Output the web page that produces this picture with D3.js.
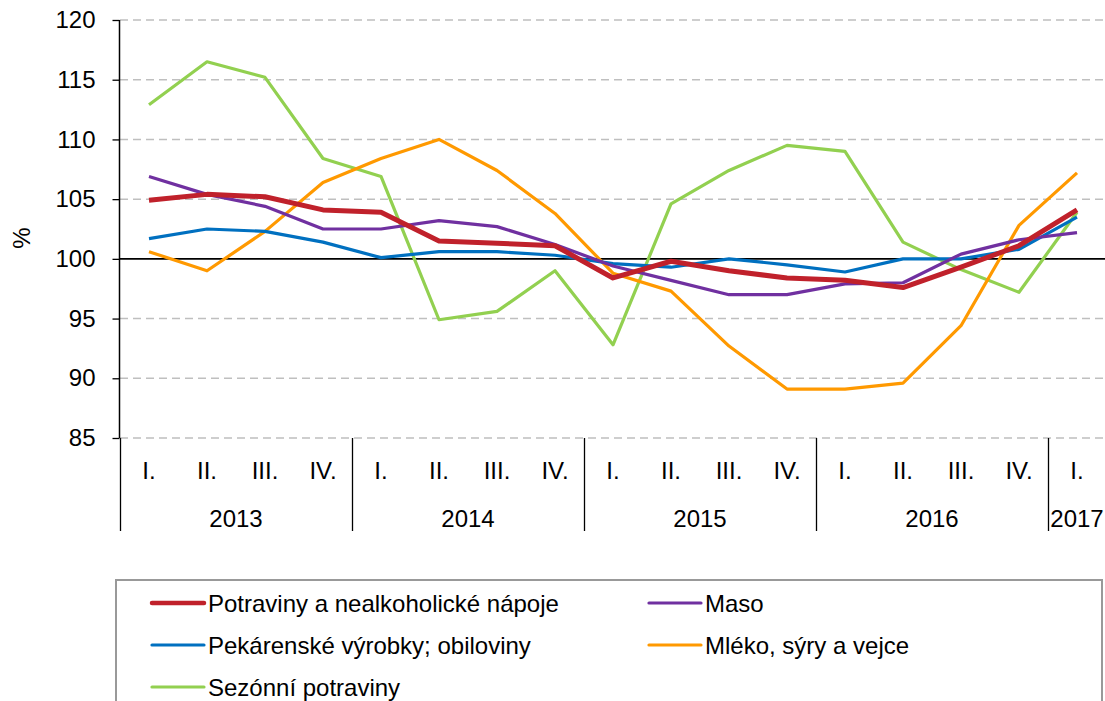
<!DOCTYPE html>
<html><head><meta charset="utf-8">
<script src="https://cdn.jsdelivr.net/npm/d3@7"></script>
<style>body{margin:0;background:#fff}svg{display:block;font-family:"Liberation Sans",Arial,sans-serif}</style>
</head><body><svg id="c" width="1105" height="701"></svg>
<script>
const quarters = ["I.","II.","III.","IV.","I.","II.","III.","IV.","I.","II.","III.","IV.","I.","II.","III.","IV.","I."];
const years = ["2013","2014","2015","2016","2017"];
const yearCounts = [4,4,4,4,1];
const yTicks = [85,90,95,100,105,110,115,120];
const seriesNames = ["Potraviny a nealkoholické nápoje","Maso","Pekárenské výrobky; obiloviny","Mléko, sýry a vejce","Sezónní potraviny"];
const potraviny = [104.9,105.4,105.2,104.1,103.9,101.5,101.3,101.1,98.4,99.8,99.0,98.4,98.2,97.6,99.3,101.1,104.1];
const maso = [106.9,105.4,104.4,102.5,102.5,103.2,102.7,101.2,99.4,98.2,97.0,97.0,97.9,98.0,100.4,101.6,102.2];
const pekarenske = [101.7,102.5,102.3,101.4,100.1,100.6,100.6,100.3,99.6,99.3,100.0,99.5,98.9,100.0,100.0,100.8,103.5];
const mleko = [100.6,99.0,102.3,106.4,108.4,110.0,107.4,103.8,98.8,97.3,92.7,89.1,89.1,89.6,94.4,102.8,107.2];
const sezonni = [112.9,116.5,115.2,108.4,106.9,94.9,95.6,99.0,92.8,104.6,107.4,109.5,109.0,101.4,99.1,97.2,103.9];

const seriesData = [potraviny, maso, pekarenske, mleko, sezonni];
const colors = ["#C0212B","#7030A0","#0070C0","#FF9900","#92D050"];
const widths = [5,3.2,3.2,3.2,3.2];
const FS = 24;

const svg = d3.select("#c");
const x = d3.scaleBand().domain(d3.range(quarters.length)).range([120,1106]).padding(0);
const y = d3.scaleLinear().domain([85,120]).range([438,20]);

// grid
svg.append("g").selectAll("line").data(yTicks.filter(t=>t!==100)).join("line")
  .attr("x1",120).attr("x2",1106).attr("y1",d=>y(d)).attr("y2",d=>y(d))
  .attr("stroke","#BFBFBF").attr("stroke-width",1.5).attr("stroke-dasharray","8,5");
svg.append("line").attr("x1",120).attr("x2",1106).attr("y1",y(100)).attr("y2",y(100))
  .attr("stroke","#000").attr("stroke-width",1.8);

// y axis
const yAxis = svg.append("g").attr("transform","translate(119.5,0)")
  .call(d3.axisLeft(y).tickValues(yTicks).tickSize(7).tickPadding(17));
yAxis.select(".domain").attr("stroke","#000").attr("stroke-width",1.5).attr("d","M0,20V438");
yAxis.selectAll(".tick line").attr("stroke","#000").attr("stroke-width",1.3);
yAxis.selectAll("text").attr("font-size",FS).attr("fill","#000").attr("font-family","Liberation Sans, Arial, sans-serif");

svg.append("text").attr("transform","translate(30,238) rotate(-90)").attr("text-anchor","middle")
  .attr("font-size",FS).text("%");

// x categories
svg.append("g").selectAll("text").data(quarters).join("text")
  .attr("x",(d,i)=>x(i)+x.bandwidth()/2).attr("y",479).attr("text-anchor","middle")
  .attr("font-size",FS).text(d=>d);
let cum=0;
const yearStarts = yearCounts.map(c=>{const s=cum;cum+=c;return s;});
svg.append("g").selectAll("text").data(years).join("text")
  .attr("x",(d,i)=>{const a=x(yearStarts[i]);const b=(yearStarts[i]+yearCounts[i]<quarters.length)?x(yearStarts[i]+yearCounts[i]):1106;return (a+b)/2;})
  .attr("y",527).attr("text-anchor","middle").attr("font-size",FS).text(d=>d);
svg.append("g").selectAll("line").data(yearStarts).join("line")
  .attr("x1",d=>Math.round(x(d))+0.5).attr("x2",d=>Math.round(x(d))+0.5).attr("y1",438).attr("y2",531)
  .attr("stroke","#000").attr("stroke-width",1.3);

// lines
const line = d3.line().x((d,i)=>x(i)+x.bandwidth()/2).y(d=>y(d));
const order = [4,3,2,1,0];
svg.append("g").selectAll("path").data(order).join("path")
  .attr("d",k=>line(seriesData[k])).attr("fill","none")
  .attr("stroke",k=>colors[k]).attr("stroke-width",k=>widths[k]).attr("stroke-linejoin","round");

// legend
svg.append("rect").attr("x",116).attr("y",580).attr("width",986).attr("height",140)
  .attr("fill","#fff").attr("stroke","#999").attr("stroke-width",2);
const legPos = [[152,603],[649,603],[152,645],[649,645],[152,687]];
const lg = svg.append("g").selectAll("g").data(seriesNames).join("g")
  .attr("transform",(d,i)=>`translate(${legPos[i][0]},${legPos[i][1]})`);
lg.append("line").attr("x1",0).attr("x2",52).attr("y1",0).attr("y2",0)
  .attr("stroke",(d,i)=>colors[i]).attr("stroke-width",(d,i)=>i===0?4.5:3.2).attr("stroke-linecap","round");
lg.append("text").attr("x",56).attr("y",9).attr("font-size",FS).text(d=>d);
</script></body></html>
